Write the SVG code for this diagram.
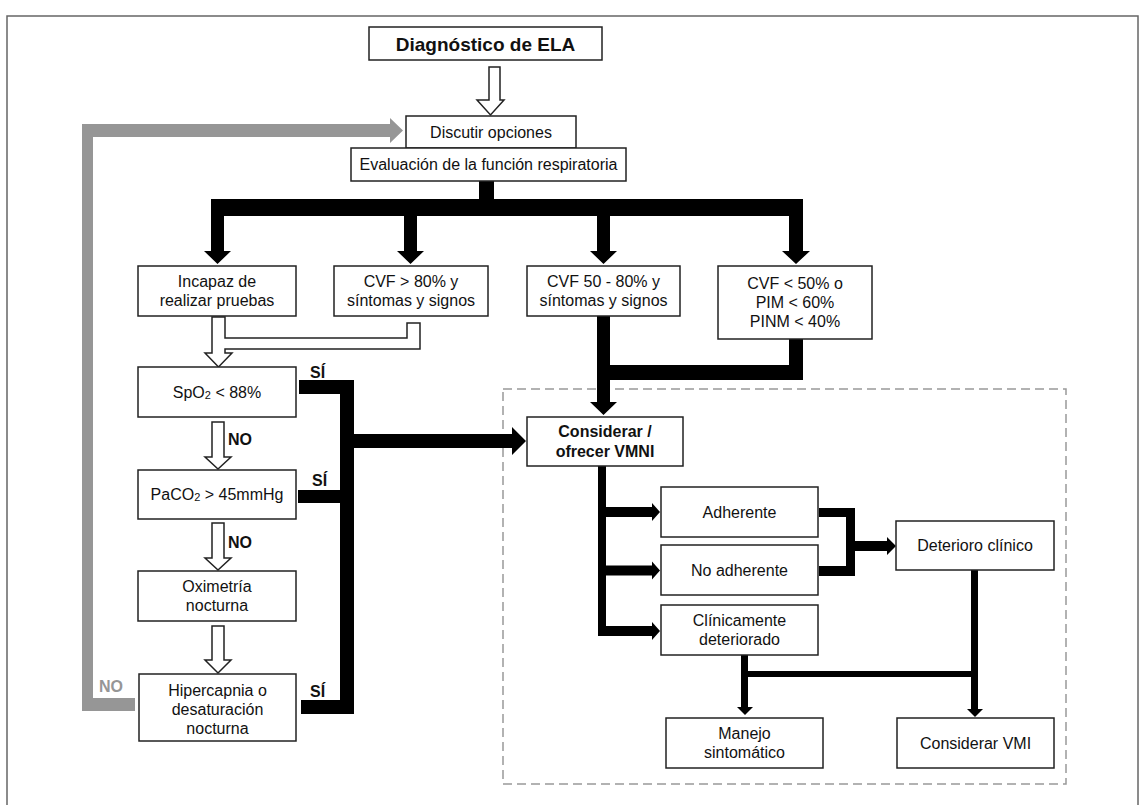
<svg xmlns="http://www.w3.org/2000/svg" width="1142" height="805" viewBox="0 0 1142 805">
<style>
.box{fill:#fff;stroke:#222;stroke-width:1.5}
.t{font-family:"Liberation Sans",Arial,sans-serif;font-size:16px;fill:#111;text-anchor:middle}
.b{font-weight:bold}
.title{font-size:19px}
.lbl{font-family:"Liberation Sans",Arial,sans-serif;font-size:16px;font-weight:bold;fill:#111}
.gl{fill:#969696}
.hollow{fill:#fff;stroke:#222;stroke-width:1.5;stroke-linejoin:miter}
.blk{fill:#000}
.gray{fill:#969696}
</style>
<rect x="7" y="16" width="1131" height="800" fill="#fff" stroke="#666" stroke-width="1.5"/>
<rect x="503" y="389" width="563" height="395" fill="none" stroke="#999" stroke-width="1.5" stroke-dasharray="9 5"/>
<g id="connectors">
  <path class="hollow" d="M489,67 H500 V100 H504 L490.5,115 L477,100 H489 Z"/>
  <path class="gray" d="M82,124 H390 V118 L403,130.5 L390,143 V137 H93 V698 H135 V711 H82 Z"/>
  <rect class="blk" x="479" y="181" width="15" height="20"/>
  <rect class="blk" x="211" y="199" width="592" height="17"/>
  <path class="blk" d="M211,215 H224 V251 H231 L217.5,264 L204,251 H211 Z"/>
  <path class="blk" d="M404,215 H417 V251 H424 L410.5,264 L397,251 H404 Z"/>
  <path class="blk" d="M597,215 H610 V251 H617 L603.5,264 L590,251 H597 Z"/>
  <path class="blk" d="M789,215 H803 V251 H810 L796,264 L782,251 H789 Z"/>
  <path class="hollow" d="M212,317 H225 V338 H407 V323 H420 V349 H225 V353 H232 L218.5,367 L205,353 H212 Z"/>
  <path class="blk" d="M597,316 H610 V402 H617 L603.5,415 L590,402 H597 Z"/>
  <path class="blk" d="M789,338 H803 V380 H609 V365 H789 Z"/>
  <path class="hollow" d="M212,422 H224 V457 H231 L218,469 L205,457 H212 Z"/>
  <path class="hollow" d="M212,523 H224 V558 H231 L218,570 L205,558 H212 Z"/>
  <path class="hollow" d="M212,626 H224 V660 H231 L218,673 L205,660 H212 Z"/>
  <path class="blk" d="M299,380 H354 V434 H512 V427 L526,441 L512,455 V448 H354 V714 H301 V700 H340 V503 H298 V490 H340 V394 H299 Z"/>
  <rect class="blk" x="598" y="466" width="8" height="170"/>
  <path class="blk" d="M602,507 H652 V503 L660,512 L652,521 V517 H602 Z"/>
  <path class="blk" d="M602,565.5 H652 V561.5 L660,570.5 L652,579.5 V575.5 H602 Z"/>
  <path class="blk" d="M602,626 H652 V622 L660,631 L652,640 V636 H602 Z"/>
  <path class="blk" d="M819,508 H855 V541 H887 V537 L896,546 L887,555 V551 H855 V576 H819 V566 H846 V517 H819 Z"/>
  <rect class="blk" x="741" y="655" width="7" height="53"/>
  <path class="blk" d="M737,707 H753 L745,715 Z"/>
  <rect class="blk" x="741" y="671" width="237" height="6"/>
  <rect class="blk" x="971" y="570" width="7" height="140"/>
  <path class="blk" d="M967,709 H983 L975,717 Z"/>
</g>
<g id="labels">
  <text class="lbl" x="310" y="378">SÍ</text>
  <text class="lbl" x="312" y="486">SÍ</text>
  <text class="lbl" x="310" y="697">SÍ</text>
  <text class="lbl" x="228" y="445">NO</text>
  <text class="lbl" x="228" y="548">NO</text>
  <text class="lbl gl" x="99" y="692">NO</text>
</g>
<g id="n-diagnostico">
  <rect class="box" x="369" y="27" width="233" height="33"/>
  <text class="t b title" x="485.5" y="50.5">Diagnóstico de ELA</text>
</g>
<g id="n-discutir">
  <rect class="box" x="406" y="116" width="170" height="32"/>
  <text class="t" x="491" y="138">Discutir opciones</text>
</g>
<g id="n-evaluacion">
  <rect class="box" x="351" y="148" width="275" height="33"/>
  <text class="t" x="488.5" y="170">Evaluación de la función respiratoria</text>
</g>
<g id="n-incapaz">
  <rect class="box" x="138" y="266" width="158" height="50"/>
  <text class="t" x="217" y="287">Incapaz de</text>
  <text class="t" x="217" y="306">realizar pruebas</text>
</g>
<g id="n-cvf80">
  <rect class="box" x="334" y="266" width="154" height="50"/>
  <text class="t" x="411" y="287">CVF &gt; 80% y</text>
  <text class="t" x="411" y="306">síntomas y signos</text>
</g>
<g id="n-cvf5080">
  <rect class="box" x="527" y="266" width="153" height="50"/>
  <text class="t" x="603.5" y="287">CVF 50 - 80% y</text>
  <text class="t" x="603.5" y="306">síntomas y signos</text>
</g>
<g id="n-cvf50">
  <rect class="box" x="718" y="266" width="154" height="73"/>
  <text class="t" x="795" y="289">CVF &lt; 50% o</text>
  <text class="t" x="795" y="308">PIM &lt; 60%</text>
  <text class="t" x="795" y="327">PINM &lt; 40%</text>
</g>
<g id="n-spo2">
  <rect class="box" x="138" y="367" width="158" height="50"/>
  <text class="t" x="217" y="398">SpO<tspan font-size="11" dy="1">2</tspan><tspan dy="-1"> &lt; 88%</tspan></text>
</g>
<g id="n-paco2">
  <rect class="box" x="138" y="470" width="158" height="49"/>
  <text class="t" x="217" y="500">PaCO<tspan font-size="11" dy="1">2</tspan><tspan dy="-1"> &gt; 45mmHg</tspan></text>
</g>
<g id="n-oximetria">
  <rect class="box" x="138" y="571" width="158" height="50"/>
  <text class="t" x="217" y="592">Oximetría</text>
  <text class="t" x="217" y="611">nocturna</text>
</g>
<g id="n-hipercapnia">
  <rect class="box" x="139" y="674" width="157" height="67"/>
  <text class="t" x="217.5" y="696">Hipercapnia o</text>
  <text class="t" x="217.5" y="715">desaturación</text>
  <text class="t" x="217.5" y="734">nocturna</text>
</g>
<g id="n-considerar">
  <rect class="box" x="527" y="417" width="156" height="49"/>
  <text class="t b" x="605" y="437">Considerar /</text>
  <text class="t b" x="605" y="457">ofrecer VMNI</text>
</g>
<g id="n-adherente">
  <rect class="box" x="661" y="487" width="157" height="50"/>
  <text class="t" x="739.5" y="518">Adherente</text>
</g>
<g id="n-noadherente">
  <rect class="box" x="661" y="545" width="157" height="50"/>
  <text class="t" x="739.5" y="576">No adherente</text>
</g>
<g id="n-clinicamente">
  <rect class="box" x="661" y="605" width="157" height="50"/>
  <text class="t" x="739.5" y="626">Clínicamente</text>
  <text class="t" x="739.5" y="645">deteriorado</text>
</g>
<g id="n-deterioro">
  <rect class="box" x="896" y="521" width="158" height="49"/>
  <text class="t" x="975" y="551">Deterioro clínico</text>
</g>
<g id="n-manejo">
  <rect class="box" x="666" y="718" width="157" height="50"/>
  <text class="t" x="744.5" y="739">Manejo</text>
  <text class="t" x="744.5" y="758">sintomático</text>
</g>
<g id="n-vmi">
  <rect class="box" x="897" y="718" width="157" height="50"/>
  <text class="t" x="975.5" y="749">Considerar VMI</text>
</g>
</svg>
